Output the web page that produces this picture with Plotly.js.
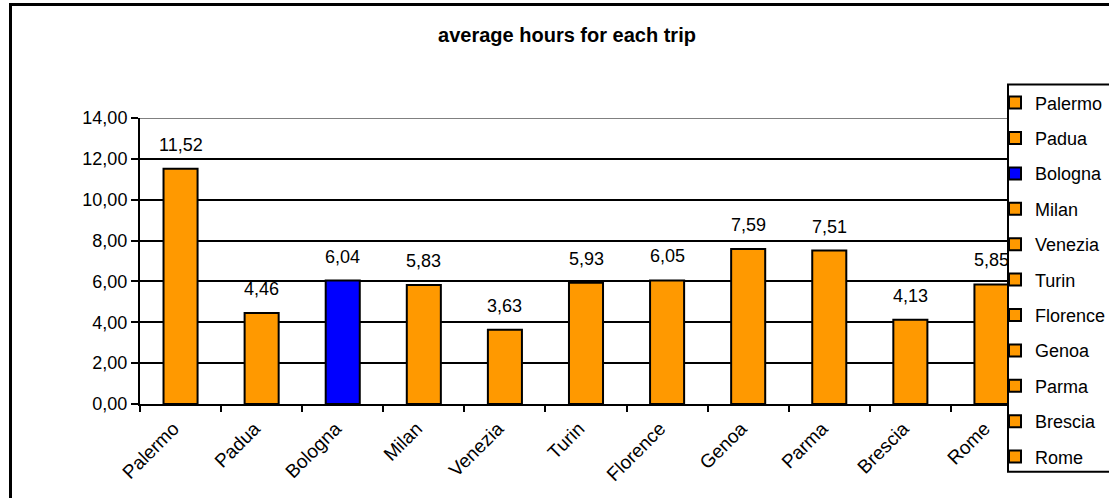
<!DOCTYPE html>
<html>
<head>
<meta charset="utf-8">
<script src="https://cdn.plot.ly/plotly-3.0.1.min.js"></script>
<style>
  html, body { margin: 0; padding: 0; background: #fff; }
  #chart { width: 1109px; height: 498px; }
</style>
</head>
<body>
<div id="chart"></div>
<script>
const cities = ["Palermo", "Padua", "Bologna", "Milan", "Venezia", "Turin", "Florence", "Genoa", "Parma", "Brescia", "Rome"];
const hours = [11.52, 4.46, 6.04, 5.83, 3.63, 5.93, 6.05, 7.59, 7.51, 4.13, 5.85];
const barColors = ["#FF9900", "#FF9900", "#0000FF", "#FF9900", "#FF9900", "#FF9900", "#FF9900", "#FF9900", "#FF9900", "#FF9900", "#FF9900"];
const yTicks = [0, 2, 4, 6, 8, 10, 12, 14];
const chartTitle = "average hours for each trip";

const FONT = '"Liberation Sans", Arial, sans-serif';

const traces = cities.map((c, i) => ({
  type: 'bar',
  x: [c],
  y: [hours[i]],
  name: c,
  legendgroup: c,
  width: 0.42,
  marker: { color: barColors[i], line: { color: '#000', width: 2 } },
  hoverinfo: 'skip'
}));

const annotations = cities.map((c, i) => ({
  x: c, y: hours[i], xref: 'x', yref: 'y',
  text: hours[i].toFixed(2).replace('.', ','),
  showarrow: false, yanchor: 'bottom', yshift: 12,
  font: { family: FONT, size: 18, color: '#000' }
}));

const layout = {
  width: 1109, height: 498,
  margin: { l: 140, r: 77, t: 118, b: 94, pad: 0, autoexpand: false },
  paper_bgcolor: '#fff', plot_bgcolor: '#fff',
  separators: ',.',
  font: { family: FONT, size: 18, color: '#000' },
  title: {
    text: '<b>' + chartTitle + '</b>',
    font: { family: FONT, size: 20, color: '#000' },
    x: 567 / 1109, xref: 'container', xanchor: 'center',
    y: 1 - 35 / 498, yref: 'container', yanchor: 'middle'
  },
  barmode: 'overlay',
  xaxis: {
    type: 'category',
    categoryorder: 'array', categoryarray: cities,
    range: [-0.5, cities.length - 0.5],
    tickson: 'boundaries',
    ticks: 'outside', ticklen: 6, tickwidth: 2, tickcolor: '#000',
    tickangle: -45,
    ticklabelshift: -7,
    ticklabelstandoff: 4,
    showline: true, linecolor: '#000', linewidth: 2,
    showgrid: false, zeroline: false,
    tickfont: { family: FONT, size: 19, color: '#000' },
    automargin: false,
    fixedrange: true
  },
  yaxis: {
    range: [0, 14],
    tickvals: yTicks,
    tickformat: '.2f',
    ticks: 'outside', ticklen: 7, tickwidth: 2, tickcolor: '#000',
    showline: true, linecolor: '#000', linewidth: 2,
    showgrid: true, gridcolor: '#000', gridwidth: 2,
    zeroline: false,
    tickfont: { family: FONT, size: 18, color: '#000' },
    automargin: false,
    fixedrange: true
  },
  showlegend: true,
  legend: {
    x: (995 - 140) / 892, xanchor: 'left', xref: 'paper',
    y: (403.5 - 85) / 285, yanchor: 'top', yref: 'paper',
    bgcolor: 'rgba(0,0,0,0)', bordercolor: 'rgba(0,0,0,0)', borderwidth: 0,
    traceorder: 'grouped', tracegroupgap: 9,
    maxheight: 450,
    font: { family: FONT, size: 18, color: '#000' },
    itemclick: false, itemdoubleclick: false
  },
  annotations: annotations,
  shapes: [
    { type: 'line', xref: 'paper', yref: 'y', x0: 0, x1: 1, y0: 14, y1: 14,
      line: { color: '#808080', width: 2 } },
    { type: 'rect', xref: 'paper', yref: 'paper',
      x0: (10.5 - 140) / 892, x1: 3, y0: -2, y1: (403.5 - 5.5) / 285,
      line: { color: '#000', width: 3 }, fillcolor: 'rgba(0,0,0,0)', layer: 'above' },
    { type: 'rect', xref: 'paper', yref: 'paper',
      x0: (1008 - 140) / 892, x1: 3, y0: (403.5 - 471) / 285, y1: (403.5 - 85) / 285,
      line: { color: '#000', width: 2 }, fillcolor: '#fff', layer: 'above' }
  ],
  hovermode: false
};

Plotly.newPlot('chart', traces, layout, { staticPlot: true, displayModeBar: false });
</script>
</body>
</html>
